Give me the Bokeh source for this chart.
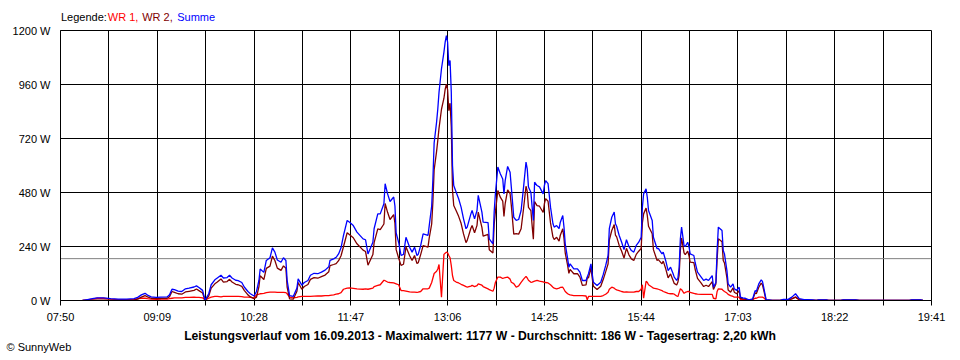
from bokeh.plotting import figure
from bokeh.layouts import column
from bokeh.models import Range1d, FixedTicker, PrintfTickFormatter, Span, Label, Plot
from bokeh.embed import file_html
from bokeh.resources import INLINE

times = ["08:08","08:12","08:16","08:20","08:25","08:31","08:37","08:44","08:50","08:53","08:56","08:59",
         "09:01","09:04","09:08","09:12","09:17","09:19","09:21","09:23","09:26","09:29","09:32","09:35",
         "09:39","09:41","09:43","09:46","09:48","09:51","09:53","09:56","09:58","10:01","10:03","10:06",
         "10:08","10:10","10:13","10:15","10:18","10:20","10:23","10:25","10:28","10:30","10:32","10:33",
         "10:36","10:38","10:41","10:43","10:45","10:47","10:50","10:52","10:54","10:55","10:57","11:00",
         "11:03","11:04","11:07","11:09","11:12","11:14","11:17","11:20","11:23","11:26","11:29","11:30",
         "11:33","11:35","11:37","11:39","11:41","11:44","11:46","11:49","11:52","11:57","11:59","12:01",
         "12:05","12:06","12:09","12:11","12:14","12:15","12:17","12:19","12:22","12:23","12:24","12:26",
         "12:28","12:30","12:32","12:35","12:37","12:39","12:41","12:42","12:44","12:46","12:50","12:51",
         "12:53","12:54","12:55","12:57","12:58","12:59","13:01","13:03","13:04","13:05","13:06","13:07",
         "13:08","13:09","13:10","13:11","13:13","13:15","13:17","13:19","13:21","13:22","13:25","13:26",
         "13:28","13:30","13:31","13:34","13:35","13:39","13:40","13:43","13:44","13:45","13:47","13:49",
         "13:51","13:52","13:53","13:55","13:57","13:58","14:00","14:02","14:04","14:06","14:08","14:10",
         "14:11","14:12","14:14","14:15","14:16","14:17","14:19","14:21","14:24","14:25","14:26","14:28",
         "14:30","14:32","14:33","14:35","14:37","14:38","14:40","14:41","14:42","14:44","14:45","14:46",
         "14:49","14:52","14:54","14:56","14:59","15:00","15:01","15:03","15:04","15:05","15:08","15:11",
         "15:13","15:15","15:17","15:18","15:20","15:22","15:23","15:24","15:26","15:28","15:30","15:32",
         "15:34","15:36","15:38","15:40","15:42","15:44","15:45","15:46","15:48","15:49","15:50","15:53",
         "15:54","15:57","15:58","16:01","16:02","16:04","16:06","16:08","16:10","16:11","16:13","16:14",
         "16:15","16:16","16:17","16:19","16:20","16:22","16:23","16:24","16:27","16:28","16:30","16:33",
         "16:35","16:37","16:39","16:42","16:43","16:45","16:46","16:47","16:50","16:51","16:52","16:54",
         "16:55","16:57","16:59","17:00","17:02","17:04","17:05","17:07","17:09","17:12","17:15","17:17",
         "17:18","17:20","17:22","17:23","17:24","17:26","17:28","17:31","17:37","17:40","17:44","17:47",
         "17:50","17:53","17:57","18:00","18:04","18:07","18:09","18:15","18:17","18:27","18:29","18:39",
         "18:42","19:23","19:25","19:32","19:34"]

summe = [0,4,8,12,12,8,6,6,8,14,25,32,
         24,16,14,15,16,25,50,48,42,40,52,55,
         60,65,58,45,2,30,70,92,100,112,100,102,
         112,100,90,88,80,60,40,30,20,40,90,140,
         125,178,190,234,215,180,170,190,178,90,22,18,
         55,96,68,80,89,112,121,119,126,135,150,178,
         185,192,207,234,289,356,348,333,304,274,270,207,
         259,319,385,385,430,519,474,440,460,420,300,259,
         200,205,281,237,215,237,200,205,244,296,289,333,
         420,540,700,793,852,926,1030,1104,1148,1177,1148,1044,
         1067,926,600,511,481,452,415,363,319,326,385,400,
         363,400,467,393,348,346,274,252,393,474,593,563,
         540,474,533,596,570,504,370,356,360,400,504,615,
         585,504,480,415,356,526,511,505,474,511,533,519,
         415,341,326,333,319,348,378,326,252,185,148,163,
         141,141,126,89,89,105,119,163,120,81,67,81,
         115,155,200,319,370,393,341,330,290,260,226,270,
         240,222,215,245,259,281,415,474,496,459,400,356,
         281,230,232,207,215,178,133,148,120,104,89,100,
         148,274,326,244,240,259,240,207,200,170,126,104,
         89,95,89,111,59,80,222,326,311,222,207,133,
         74,59,74,52,45,59,15,12,10,3,7,44,
         40,74,92,85,59,3,3,0,0,5,5,15,
         30,8,4,4,3,0,3,3,0,0,3,3,
         0,0,3,3,0]

wr1 = [0,3,6,10,10,6,4,4,5,8,10,10,
       8,6,5,6,6,8,10,12,12,12,14,14,
       15,14,14,12,2,10,15,18,18,16,18,18,
       18,18,18,18,17,15,15,14,12,25,28,30,
       32,35,37,37,37,36,36,36,35,30,15,12,
       14,16,18,18,18,18,19,20,20,22,22,23,
       25,28,30,35,50,55,56,54,52,50,52,50,
       55,62,67,70,90,88,82,80,78,76,74,70,
       44,44,42,38,37,37,36,37,40,52,52,55,
       80,100,120,130,140,160,15,205,210,215,212,200,
       190,155,110,89,82,78,72,67,62,59,64,67,
       62,66,74,68,62,52,48,41,55,80,104,104,
       98,100,102,104,95,81,75,59,65,81,95,107,
       100,90,81,82,84,86,89,86,83,81,80,78,
       70,59,55,52,55,58,59,50,40,30,27,25,
       22,22,22,22,20,3,18,18,18,18,18,18,
       22,28,37,50,59,55,50,47,44,40,37,38,
       37,37,37,40,40,50,70,10,85,81,70,59,
       55,52,50,44,40,36,32,30,30,28,20,18,
       35,52,48,32,36,40,40,36,32,30,28,27,
       27,27,27,27,10,7,40,52,50,44,40,33,
       27,22,18,15,15,15,5,5,4,2,4,10,
       10,15,15,15,12,2,1,0,0,2,2,8,
       15,4,2,2,1,0,0,0,0,0,0,0,
       0,0,0,0,0]

wr2 = [0,1,2,2,2,2,2,2,3,6,15,22,
       16,10,9,9,10,17,40,36,30,28,38,41,
       45,51,44,33,0,20,55,74,82,96,82,84,
       94,82,72,70,63,45,25,16,8,15,62,110,
       93,143,153,197,178,144,134,154,143,60,7,6,
       41,80,50,62,71,94,102,99,106,113,128,155,
       160,164,177,199,239,301,292,279,252,224,218,157,
       204,257,318,315,340,431,392,360,382,344,226,189,
       156,161,239,199,178,200,164,168,204,244,237,278,
       340,440,580,663,712,766,850,899,938,962,936,844,
       877,771,490,422,399,374,343,296,257,267,321,333,
       301,334,393,325,286,294,226,211,338,394,489,459,
       442,374,431,492,475,423,295,297,295,319,409,508,
       485,414,399,333,272,440,422,419,391,430,453,441,
       345,282,271,281,264,290,319,276,212,155,121,138,
       119,119,104,67,69,102,101,145,102,63,49,63,
       93,127,163,269,311,338,291,283,246,220,189,232,
       203,185,178,205,219,231,345,385,411,378,330,297,
       226,178,182,163,175,142,101,118,90,76,69,82,
       113,222,278,212,204,219,200,171,168,140,98,77,
       62,68,62,84,49,73,182,274,261,178,167,100,
       47,37,56,37,30,44,10,7,6,1,3,34,
       30,59,77,70,47,1,2,0,0,3,3,7,
       15,4,2,2,2,0,3,3,0,0,3,3,
       0,0,3,3,0]

average_w = 186
x_tick_values = [470, 509.5, 549, 588.5, 628, 667.5, 707, 746.5, 786, 825.5,
                 865, 904.5, 944, 983.5, 1023, 1062.5, 1102, 1141.5, 1181]
x_tick_labels = ["07:50", "", "09:09", "", "10:28", "", "11:47", "", "13:06", "",
                 "14:25", "", "15:44", "", "17:03", "", "18:22", "", "19:41"]
y_tick_values = [0, 240, 480, 720, 960, 1200]
legend_names = ["WR 1,", "WR 2,", "Summe"]
series_colors = ["#ff0000", "#800000", "#0000ff"]
title_text = ("Leistungsverlauf vom 16.09.2013 - Maximalwert: 1177 W - "
              "Durchschnitt: 186 W - Tagesertrag: 2,20 kWh")
credit_text = "\u00a9 SunnyWeb"


def to_min(s):
    h, m = s.split(":")
    return int(h) * 60 + int(m)


xm = [to_min(t) for t in times]

FONT = "Liberation Sans"
W = 952
HAS_FRAME_ALIGN = "frame_align" in Plot.properties()
# frames of stacked figures get aligned at x=60 unless alignment can be switched off
LEFT = 0 if HAS_FRAME_ALIGN else 60


def blank_fig(h):
    f = figure(width=W, height=h, x_axis_type=None, y_axis_type=None,
               x_range=Range1d(0, 1), y_range=Range1d(0, 1),
               min_border=0, min_border_left=0, min_border_right=0,
               min_border_top=0, min_border_bottom=0,
               output_backend="svg", toolbar_location=None)
    if HAS_FRAME_ALIGN:
        f.frame_align = False
    f.outline_line_color = None
    f.background_fill_color = "white"
    f.border_fill_color = "white"
    return f


# --- top strip: legend ---
top = blank_fig(23)
top.add_layout(Label(x=60.5 - LEFT, y=6.5, x_units="screen", y_units="screen", text="Legende:",
                     text_color="black", text_font=FONT, text_font_size="11px",
                     text_baseline="middle", text_align="left"))
for txt, col, lx in zip(legend_names, series_colors, [107.3, 141.7, 176.7]):
    top.add_layout(Label(x=lx - LEFT, y=6.5, x_units="screen", y_units="screen", text=txt,
                         text_color=col, text_font=FONT, text_font_size="11px",
                         text_baseline="middle", text_align="left"))

# --- main chart ---
p = figure(frame_width=871, frame_height=270,
           min_border_left=60, min_border_right=21,
           min_border_top=7, min_border_bottom=24,
           x_range=Range1d(470, 1181), y_range=Range1d(0, 1200),
           output_backend="svg", toolbar_location=None)
p.background_fill_color = "white"
p.border_fill_color = "white"
p.outline_line_color = "black"
p.outline_line_width = 1

xt = FixedTicker(ticks=x_tick_values)
p.xaxis.ticker = xt
p.xaxis.major_label_overrides = {v: l for v, l in zip(x_tick_values, x_tick_labels)}
p.xaxis.major_tick_out = 5
p.xaxis.major_tick_in = 0
p.xaxis.minor_tick_out = 0
p.xaxis.minor_tick_in = 0
p.xaxis.major_label_standoff = 5

p.yaxis.ticker = FixedTicker(ticks=y_tick_values)
p.yaxis.formatter = PrintfTickFormatter(format="%d W")
p.yaxis.major_tick_out = 0
p.yaxis.major_tick_in = 0
p.yaxis.minor_tick_out = 0
p.yaxis.minor_tick_in = 0
p.yaxis.major_label_standoff = 10

for ax in (p.xaxis, p.yaxis):
    ax.axis_line_color = "black"
    ax.major_tick_line_color = "black"
    ax.major_label_text_font = FONT
    ax.major_label_text_font_size = "11px"
    ax.major_label_text_color = "black"

p.xgrid.ticker = xt
p.grid.grid_line_color = "black"
p.grid.grid_line_alpha = 1.0
p.grid.grid_line_width = 1

avg = Span(location=average_w, dimension="width", line_color="#808080",
           line_width=1, level="underlay")
p.add_layout(avg)

for ys, col in zip([wr1, wr2, summe], series_colors):
    p.line(xm, ys, line_color=col, line_width=1.3)

# --- bottom strip: summary title and credit ---
bot = blank_fig(28)
bot.add_layout(Label(x=479.5 - LEFT, y=17.5, x_units="screen", y_units="screen", text=title_text,
                     text_color="black", text_font=FONT, text_font_size="12.2px",
                     text_font_style="bold", text_baseline="middle", text_align="center"))
bot.add_layout(Label(x=6 - LEFT, y=7, x_units="screen", y_units="screen", text=credit_text,
                     text_color="black", text_font=FONT, text_font_size="11px",
                     text_baseline="middle", text_align="left"))

layout = column(top, p, bot, spacing=0)
open("out.html", "w").write(file_html(layout, INLINE))
